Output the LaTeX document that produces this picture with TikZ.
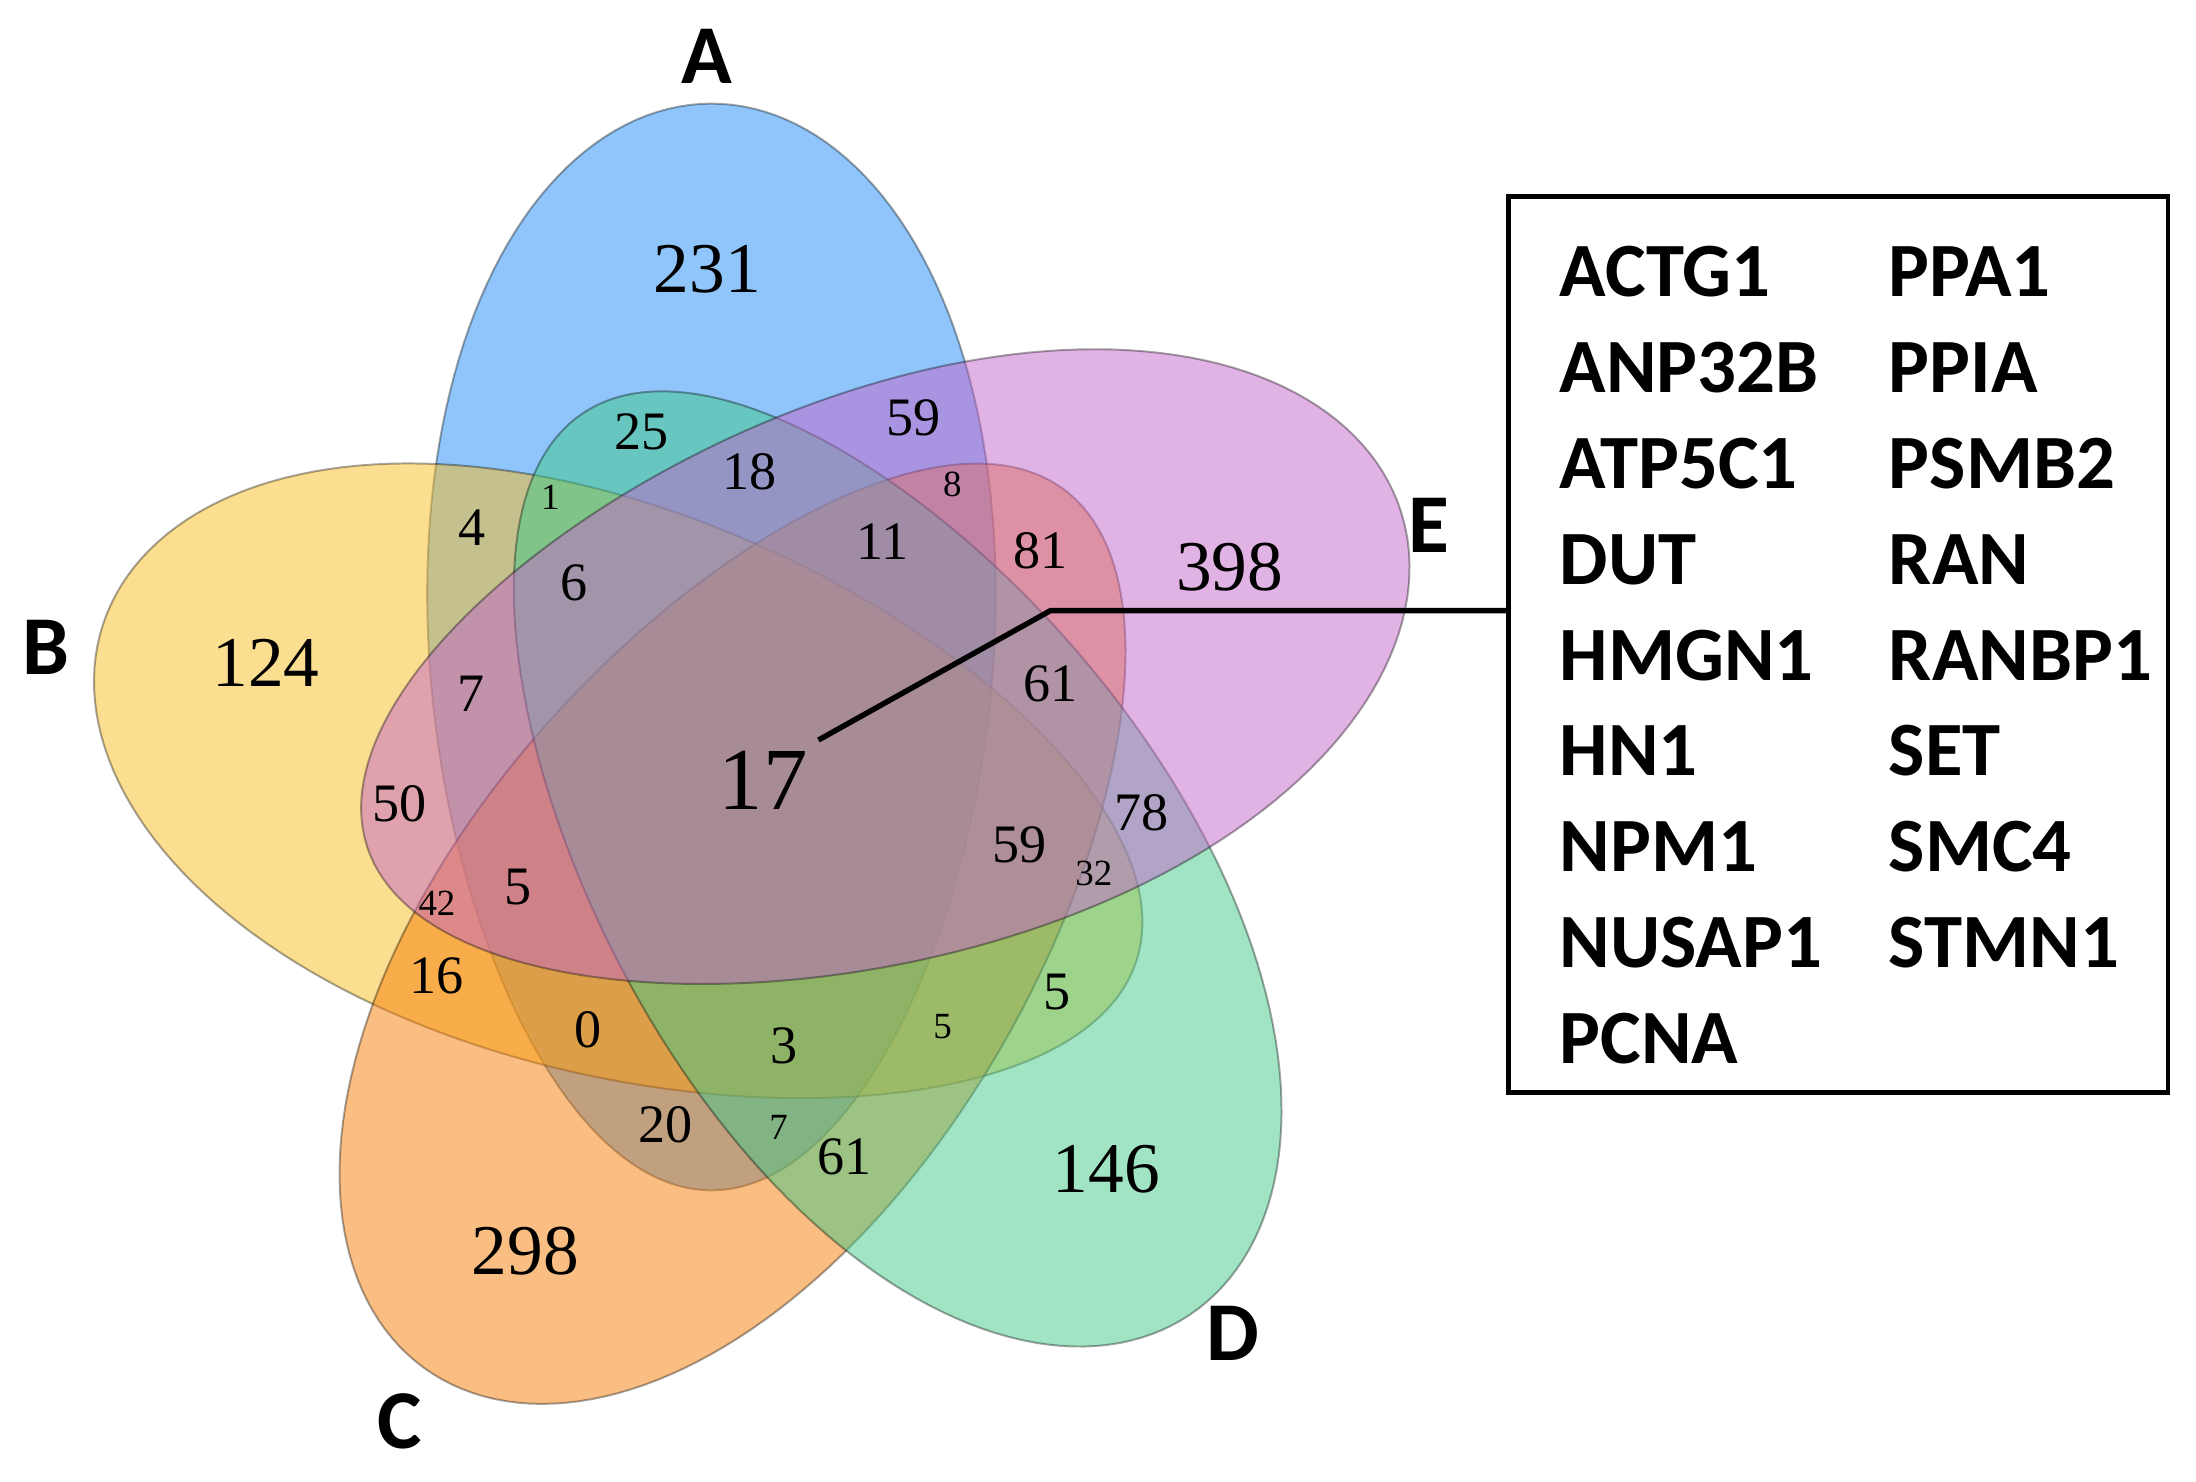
\documentclass[tikz,border=0pt]{standalone}
\usepackage{fontspec}
\setmainfont{Liberation Serif}
\newfontfamily\genefont{Carlito}
\usetikzlibrary{calc}

\definecolor{setA}{RGB}{31,139,245}
\definecolor{setB}{RGB}{249,189,35}
\definecolor{setC}{RGB}{245,125,5}
\definecolor{setD}{RGB}{65,201,135}
\definecolor{setE}{RGB}{195,101,201}

\begin{document}
\begin{tikzpicture}[
    petal/.style={fill=#1, fill opacity=0.5, draw=black, draw opacity=0.35, line width=0.4pt},
    big/.style={inner sep=1pt, font=\fontsize{14.5}{17}\selectfont},
    num/.style={inner sep=1pt, font=\fontsize{11}{13}\selectfont},
    tiny/.style={inner sep=1pt, font=\fontsize{7.5}{9}\selectfont},
    setlabel/.style={inner sep=0pt, font=\genefont\bfseries\fontsize{17}{20}\selectfont},
    gene/.style={anchor=base west, inner sep=0pt, font=\genefont\bfseries\fontsize{15.6}{19}\selectfont}
]
\useasboundingbox (0,0) rectangle (15.68,-10.58);

% five egg shaped petals, turned by 72 degrees round the middle
\coordinate (O) at (5.54,-5.58);
\foreach \ang/\col/\dx/\dy in {90/setA/0/0,162/setB/-0.06/0.06,234/setC/-0.04/0,304/setD/-0.13/-0.05,18/setE/0/0}
    \draw[petal=\col, shift={($(O)+(\ang+25.6:1.065)+(\dx,\dy)$)}, rotate=\ang]
        plot[domain=0:360, samples=181, variable=\t] ({3.88*cos(\t)}, {2.02*sin(\t)*(1+0.1*cos(\t))}) -- cycle;

% set names
\node[setlabel] (lA) at (5.05,-0.40) {A};
\node[setlabel] (lB) at (0.33,-4.62) {B};
\node[setlabel] (lC) at (2.85,-10.15) {C};
\node[setlabel] (lD) at (8.80,-9.52) {D};
\node[setlabel] (lE) at (10.20,-3.75) {E};

% counts
\node[big] (n231) at (5.05,-1.92) {231};
\node[big] (n124) at (1.90,-4.73) {124};
\node[big] (n298) at (3.75,-8.93) {298};
\node[big] (n146) at (7.90,-8.35) {146};
\node[big] (n398) at (8.78,-4.05) {398};
\node[inner sep=2pt, font=\fontsize{18}{21}\selectfont] (n17) at (5.45,-5.57) {17};

\node[num] (n25) at (4.58,-3.08) {25};
\node[num] (n59a) at (6.52,-2.98) {59};
\node[num] (n18) at (5.35,-3.37) {18};
\node[num] (n4) at (3.37,-3.77) {4};
\node[num] (n11) at (6.30,-3.87) {11};
\node[num] (n81) at (7.43,-3.93) {81};
\node[num] (n6) at (4.10,-4.16) {6};
\node[num] (n61a) at (7.50,-4.88) {61};
\node[num] (n7a) at (3.36,-4.95) {7};
\node[num] (n50) at (2.85,-5.74) {50};
\node[num] (n78) at (8.15,-5.80) {78};
\node[num] (n59b) at (7.28,-6.03) {59};
\node[num] (n5a) at (3.70,-6.33) {5};
\node[num] (n16) at (3.12,-6.97) {16};
\node[num] (n5b) at (7.55,-7.08) {5};
\node[num] (n0) at (4.20,-7.35) {0};
\node[num] (n3) at (5.60,-7.47) {3};
\node[num] (n20) at (4.75,-8.03) {20};
\node[num] (n61b) at (6.03,-8.26) {61};

\node[tiny] (n1) at (3.93,-3.55) {1};
\node[tiny] (n8) at (6.80,-3.46) {8};
\node[tiny] (n32) at (7.81,-6.24) {32};
\node[tiny] (n42) at (3.12,-6.45) {42};
\node[tiny] (n5c) at (6.73,-7.33) {5};
\node[tiny] (n7b) at (5.56,-8.05) {7};

% gene list of the middle region
\node[draw, line width=1pt, minimum width=4.71cm, minimum height=6.40cm, inner sep=0pt] (genes) at (13.125,-4.60) {};
\foreach \g [count=\i] in {ACTG1,ANP32B,ATP5C1,DUT,HMGN1,HN1,NPM1,NUSAP1,PCNA}
    \node[gene] (gl\i) at (11.13,{-2.12-(\i-1)*0.684}) {\g};
\foreach \g [count=\i] in {PPA1,PPIA,PSMB2,RAN,RANBP1,SET,SMC4,STMN1}
    \node[gene] (gr\i) at (13.48,{-2.12-(\i-1)*0.684}) {\g};

\coordinate (knee) at (7.50,-4.36);
\draw[line width=1.1pt] (n17.north east) -- (knee) -- (knee -| genes.west);

\end{tikzpicture}
\end{document}
